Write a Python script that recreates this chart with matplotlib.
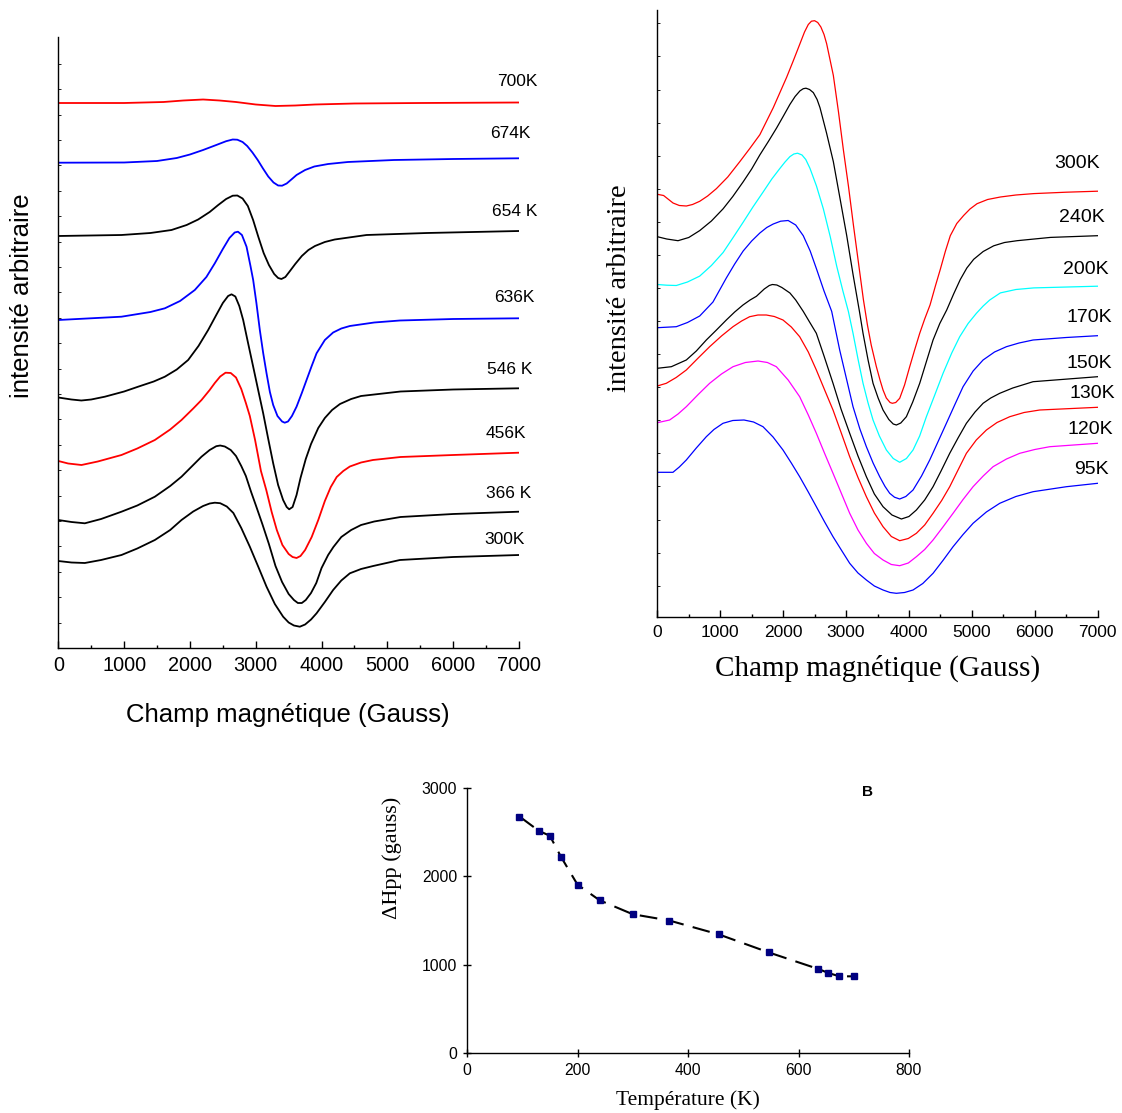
import numpy as np
import matplotlib
matplotlib.use('Agg')
import matplotlib.pyplot as plt
from matplotlib.ticker import MultipleLocator

# ---------------- data: left panel (high temperature EPR spectra) ----------------
left_names = ['700K', '674K', '654 K', '636K', '546 K', '456K', '366 K', '300K']
left_colors = ['#ff0000', '#0000ff', '#000000', '#0000ff', '#000000', '#ff0000', '#000000', '#000000']

L700_G = [0, 1000, 1600, 1900, 2200, 2450, 2700, 3000, 3300, 3600, 3900, 4500, 5500, 7000]
L700_I = [545, 545, 546, 547.5, 548.5, 547.5, 546, 543.5, 542, 542.5, 543.5, 544.5, 545, 545.5]

L674_G = [0, 1000, 1500, 1800, 2000, 2200, 2400, 2550, 2650, 2720, 2800, 2870, 2950, 3030, 3110, 3190,
          3270, 3340, 3400, 3470, 3550, 3620, 3750, 3890, 4100, 4400, 5100, 6000, 7000]
L674_I = [485.3, 485.5, 487, 490, 493.5, 498, 503, 506.8, 508.5, 508.3, 506, 502, 495.5, 488, 479.5, 471.5,
          465.5, 462.5, 462.3, 464.5, 469, 473, 478, 481.5, 484, 486, 488, 489, 489.7]

L654_G = [0, 960, 1400, 1720, 1950, 2125, 2300, 2430, 2550, 2650, 2720, 2800, 2880, 2960, 3040, 3120,
          3200, 3280, 3340, 3390, 3450, 3520, 3600, 3700, 3800, 3900, 4050, 4200, 4684, 5600, 7000]
L654_I = [412, 413, 415, 418, 423, 428.5, 436, 443, 449, 452.3, 452.5, 449.5, 442, 428, 411, 395,
          383, 374, 370, 369, 371, 377, 384, 392, 398, 402, 406, 408.5, 413, 415, 417]

L636_G = [0, 960, 1400, 1619, 1850, 2074, 2250, 2378, 2500, 2600, 2680, 2730, 2790, 2860, 2920, 2961,
          3010, 3062, 3113, 3164, 3215, 3265, 3330, 3400, 3440, 3490, 3550, 3620, 3700, 3772, 3850,
          3924, 4050, 4176, 4300, 4430, 4800, 5190, 6000, 7000]
L636_I = [328, 331.3, 336, 339.7, 347, 358, 371, 384.7, 399, 410, 415.5, 416.3, 413, 401.3, 382, 368,
          345, 318, 295, 274.7, 256, 243, 232, 226.5, 225.3, 226.5, 232, 241.3, 255, 268, 282,
          294.7, 308, 315.5, 319.5, 322, 325.5, 327.5, 329, 329.7]

L546_G = [0, 200, 350, 500, 707, 1000, 1213, 1450, 1619, 1800, 1973, 2130, 2277, 2400, 2500, 2580, 2632,
          2690, 2750, 2809, 2880, 2961, 3040, 3113, 3190, 3265, 3340, 3416, 3470, 3508, 3560, 3620,
          3680, 3760, 3840, 3950, 4050, 4160, 4280, 4450, 4600, 5200, 6000, 7000]
L546_I = [250.5, 248.5, 247.5, 248.5, 251.3, 256.5, 261.3, 266.5, 271.3, 278.5, 288, 302, 318, 333, 345,
          352, 353.7, 351.5, 342, 328, 306, 281.3, 257, 234.7, 209, 184.7, 163, 148, 141, 138.7, 141,
          153, 170, 189, 204, 220, 230, 238, 244, 249, 252, 256.5, 258.5, 259.7]

L456_G = [0, 150, 352, 600, 960, 1200, 1467, 1700, 1872, 2050, 2176, 2300, 2378, 2460, 2541, 2620, 2700,
          2780, 2850, 2910, 2990, 3079, 3160, 3242, 3320, 3405, 3500, 3560, 3620, 3680, 3750, 3850,
          3950, 4050, 4140, 4230, 4330, 4430, 4600, 4780, 5200, 6000, 7000]
L456_I = [187, 184.5, 183, 186.5, 193, 199.5, 208, 218.5, 228, 239.5, 248, 258, 265, 271.5, 275.3, 275,
          270.5, 259, 245, 232, 208, 177, 158, 136, 118, 103, 94, 91, 90, 92, 98, 111, 128, 147,
          161, 171, 177, 181.5, 185.5, 188, 191, 193, 195.3]

L366_G = [0, 200, 403, 650, 960, 1200, 1467, 1700, 1872, 2050, 2176, 2300, 2400, 2460, 2530, 2620, 2700,
          2780, 2850, 2930, 3000, 3100, 3200, 3300, 3400, 3500, 3580, 3640, 3700, 3760, 3840, 3920,
          4000, 4100, 4180, 4300, 4450, 4600, 4800, 5200, 6000, 7000]
L366_I = [128, 126, 124.7, 129, 136.3, 142.5, 151.3, 162, 171.3, 183, 191.3, 198, 201.8, 202.5, 201.5, 198,
          192, 182, 172, 156, 143, 124, 104, 82, 66, 54, 48, 45, 45, 48, 55, 65, 80, 93, 101, 111,
          118, 123, 126.5, 131, 134, 136.3]

L300_G = [0, 200, 403, 650, 960, 1200, 1467, 1700, 1872, 2050, 2200, 2300, 2378, 2460, 2560, 2660, 2780,
          2910, 3040, 3164, 3290, 3416, 3500, 3580, 3670, 3750, 3840, 3924, 4050, 4176, 4300, 4430,
          4600, 4784, 5190, 6000, 7000]
L300_I = [87, 85.5, 85, 88, 93, 99.5, 108, 118, 128, 136.5, 142, 144.5, 145.3, 144.8, 141.5, 135, 120,
          101.3, 81, 61.3, 44, 31.3, 25.5, 22.5, 21.3, 23.5, 28.5, 34.7, 46, 58, 67.5, 74.7, 79, 82,
          88, 91, 93]

left_series = [(L700_G, L700_I), (L674_G, L674_I), (L654_G, L654_I), (L636_G, L636_I),
               (L546_G, L546_I), (L456_G, L456_I), (L366_G, L366_I), (L300_G, L300_I)]
left_label_pos = [(6968, 566), (6862, 515), (6938, 437), (6923, 351),
                  (6862, 278), (6801, 215), (6846, 155), (6786, 108)]

# ---------------- data: right panel (low temperature EPR spectra) ----------------
right_names = ['300K', '240K', '200K', '170K', '150K', '130K', '120K', '95K']
right_colors = ['#ff0000', '#000000', '#00ffff', '#0000ff', '#000000', '#ff0000', '#ff00ff', '#0000ff']

R300_G = [0, 100, 250, 350, 462, 560, 674, 800, 940, 1120, 1312, 1470, 1630, 1843, 2055, 2160, 2267,
          2340, 2400, 2450, 2500, 2550, 2600, 2650, 2692, 2798, 2880, 2958, 3040, 3117, 3200, 3276,
          3340, 3400, 3482, 3540, 3588, 3640, 3700, 3736, 3790, 3853, 3930, 4012, 4090, 4171, 4250,
          4335, 4420, 4498, 4580, 4657, 4760, 4869, 4970, 5082, 5250, 5453, 5700, 5984, 6500, 7000]
R300_I = [422.7, 421.5, 414, 411.5, 411, 412.5, 415.7, 421, 428.4, 440, 455.4, 468.5, 482.3, 509.3,
          539.6, 556, 573.2, 585, 592.5, 595.8, 596.3, 594.5, 590, 582.5, 573.2, 541.6, 505, 467, 430,
          392, 353, 317.3, 292, 272, 250.3, 237, 227, 219, 214.5, 213.7, 214.5, 218.7, 232, 250.3,
          267, 283.7, 298, 312, 331, 347.6, 366, 381.3, 393.5, 401.5, 408, 413.3, 417.5, 420, 422,
          423.4, 424.8, 425.8]

R240_G = [0, 150, 329, 500, 674, 860, 1046, 1200, 1365, 1500, 1630, 1770, 1896, 2000, 2108, 2190, 2267,
          2320, 2363, 2420, 2480, 2540, 2586, 2690, 2798, 2900, 3011, 3110, 3213, 3270, 3350, 3429,
          3510, 3588, 3680, 3750, 3800, 3870, 3959, 4060, 4171, 4280, 4383, 4490, 4600, 4710, 4816,
          4920, 5029, 5180, 5347, 5519, 5719, 6250, 7000]
R240_I = [380.3, 378, 376.3, 379.5, 386.4, 396, 408.2, 420.5, 435.2, 448, 462.1, 476, 489, 500.5, 512.6,
          520.5, 526.1, 528.3, 528.8, 527.5, 524.4, 517.5, 509.3, 484, 455.4, 420, 381.3, 343, 305.6,
          283.7, 257, 233.7, 219, 207, 197.5, 193, 192, 194, 200.3, 215, 233.7, 256, 277, 293.5,
          307, 323, 337.5, 349, 357.7, 365.5, 371.2, 374.5, 376.3, 379.6, 381.3]

R200_G = [0, 150, 302, 480, 674, 860, 1046, 1200, 1365, 1520, 1683, 1820, 1949, 2030, 2108, 2170, 2230,
          2300, 2360, 2427, 2530, 2639, 2750, 2851, 2950, 3037, 3111, 3190, 3270, 3350, 3429, 3530,
          3641, 3750, 3853, 3960, 4065, 4170, 4277, 4410, 4542, 4680, 4807, 4940, 5072, 5180, 5284,
          5453, 5700, 5984, 7000]
R200_I = [332.5, 331.8, 331.5, 335, 340.9, 351.5, 364.5, 379, 394.8, 410, 425.1, 438, 448.6, 455, 460.4,
          463, 463.8, 462, 457.5, 448.6, 431, 408.2, 380, 351, 326, 305.6, 283.7, 258, 233.7, 214,
          197, 181, 167, 158.5, 154.7, 158.5, 167, 181, 200.3, 222, 243.7, 264, 280.3, 293.5, 303.7,
          311, 317, 324.1, 327.5, 329.1, 330.8]

R170_G = [0, 150, 302, 480, 674, 885, 1097, 1230, 1365, 1500, 1630, 1740, 1843, 1960, 2080, 2200, 2320,
          2430, 2533, 2650, 2772, 2899, 3000, 3111, 3220, 3323, 3430, 3535, 3620, 3694, 3770, 3853,
          3950, 4065, 4200, 4330, 4460, 4595, 4730, 4860, 5020, 5178, 5360, 5549, 5750, 5973, 6500, 7000]
R170_I = [289.3, 289.8, 290.3, 294.5, 301, 315, 339, 353, 366, 376, 384, 389.5, 393, 395.8, 396.5, 392,
          381.3, 366, 347.6, 326, 305.6, 267, 240, 210.3, 188, 170.3, 154, 140.3, 130.5, 123.7, 119.8,
          118, 120.5, 127, 141, 157, 175, 193.7, 212.5, 230.3, 246, 257, 265, 270.3, 274, 277, 279.5,
          281.3]

R150_G = [0, 223, 461, 620, 779, 940, 1097, 1230, 1362, 1475, 1575, 1700, 1780, 1829, 1900, 1980, 2108,
          2200, 2320, 2420, 2528, 2650, 2793, 2920, 3058, 3190, 3323, 3450, 3588, 3730, 3880, 4000,
          4118, 4250, 4383, 4510, 4648, 4780, 4913, 5050, 5178, 5300, 5443, 5650, 5973, 7000]
R150_I = [248.7, 250.3, 257, 266, 277, 287, 297, 305, 312, 317, 320.7, 328, 331.5, 332.5, 332, 329.5, 324,
          317, 305.6, 295, 283.7, 261, 233.7, 208, 183.7, 161, 140.3, 123, 110.3, 102, 98, 100.5, 107,
          117, 130.3, 146, 163.7, 179, 193.7, 205, 213.7, 219, 223.7, 229, 235.3, 240.3]

R130_G = [0, 143, 300, 461, 650, 832, 1020, 1203, 1340, 1468, 1600, 1733, 1860, 1998, 2130, 2263, 2400,
          2528, 2660, 2793, 2930, 3058, 3190, 3323, 3450, 3588, 3720, 3853, 3990, 4118, 4250, 4383,
          4520, 4648, 4780, 4913, 5070, 5231, 5400, 5602, 5830, 6079, 7000]
R130_I = [231, 233.7, 239.5, 247, 259, 270.3, 281, 290.3, 296, 300.3, 302, 302, 300.5, 297, 290, 280.3,
          265, 247, 227, 207, 183, 160.3, 139.5, 120.3, 104, 90.3, 80.5, 76.3, 78.5, 83.7, 92, 103.7,
          116.5, 130.3, 147, 163.7, 177, 187, 194.5, 200.3, 204.5, 207, 209.7]

R120_G = [0, 196, 330, 461, 650, 832, 1020, 1203, 1400, 1601, 1750, 1892, 2080, 2263, 2400, 2528, 2660,
          2793, 2930, 3058, 3190, 3323, 3450, 3588, 3720, 3853, 3990, 4118, 4250, 4383, 4540, 4701,
          4860, 5019, 5180, 5337, 5550, 5761, 6000, 6238, 7000]
R120_I = [194.3, 197, 203, 210.3, 222.5, 233.7, 243, 250.3, 254.5, 256, 254.5, 250.3, 237, 220.3, 202,
          183.7, 163.5, 143.7, 123, 103.7, 87, 73.7, 63.5, 57, 52.5, 51.3, 54, 60.3, 67.5, 77, 90,
          103.7, 117.5, 130.3, 141, 150.3, 158, 163.7, 167.5, 170.3, 173.7]

R95_G = [0, 249, 350, 461, 620, 779, 900, 1044, 1200, 1378, 1530, 1680, 1840, 1998, 2130, 2263, 2400,
         2528, 2660, 2793, 2930, 3058, 3190, 3323, 3450, 3588, 3700, 3800, 3930, 4065, 4220, 4383,
         4540, 4701, 4860, 5019, 5230, 5443, 5700, 5973, 6503, 7000]
R95_I = [144.7, 144.7, 150, 157, 169, 180.3, 187.5, 193.7, 196.5, 197, 195, 190.3, 180, 167, 154, 140.3,
         125, 110.3, 95, 80.3, 66.5, 53.7, 44, 37, 31, 27, 24.5, 23.7, 24.5, 27, 33.5, 43.7, 56.5,
         70.3, 82.5, 93.7, 105, 113.7, 120.5, 125.3, 130.3, 133.7]

right_series = [(R300_G, R300_I), (R240_G, R240_I), (R200_G, R200_I), (R170_G, R170_I),
                (R150_G, R150_I), (R130_G, R130_I), (R120_G, R120_I), (R95_G, R95_I)]
right_label_pos = [(6665, 453), (6749, 399), (6812, 347), (6863, 300),
                   (6863, 254), (6908, 224), (6890, 188), (6908, 147)]

# ---------------- data: bottom panel (line width vs temperature) ----------------
temperature = [95, 130, 150, 170, 200, 240, 300, 366, 456, 546, 636, 654, 674, 700]
delta_hpp = [2677, 2515, 2459, 2222, 1906, 1729, 1571, 1500, 1342, 1139, 951, 906, 868, 868]

# ---------------- figure ----------------
W, H = 1122, 1113
fig = plt.figure(figsize=(W / 100, H / 100), dpi=100)
SANS = ['Liberation Sans', 'DejaVu Sans']
SERIF = ['Liberation Serif', 'DejaVu Serif']


def box(x0, y0, x1, y1):
    return [x0 / W, 1 - y1 / H, (x1 - x0) / W, (y1 - y0) / H]


def style_spectrum_axes(ax, ymax, yticks, tick_fs):
    ax.set_xlim(0, 7000)
    ax.set_ylim(0, ymax)
    for s in ['top', 'right']:
        ax.spines[s].set_visible(False)
    for s in ['left', 'bottom']:
        ax.spines[s].set_linewidth(1.0)
    ax.xaxis.set_major_locator(MultipleLocator(1000))
    ax.xaxis.set_minor_locator(MultipleLocator(500))
    ax.tick_params(axis='x', which='major', direction='in', length=5, width=1.0, pad=6,
                   labelsize=tick_fs)
    ax.tick_params(axis='x', which='minor', direction='in', length=2.5, width=1.0)
    ax.set_yticks(yticks)
    ax.tick_params(axis='y', which='major', direction='in', length=2, width=0.6, labelleft=False)
    for lab in ax.get_xticklabels():
        lab.set_family(SANS)


# Left panel
axL = fig.add_axes(box(58.3, 37, 519, 648))
style_spectrum_axes(axL, 611, np.arange(1, 24) * 25.4, 14.3)
for (g, i), c in zip(left_series, left_colors):
    axL.plot(g, i, color=c, lw=1.3, solid_joinstyle='round')
for name, (gx, iy) in zip(left_names, left_label_pos):
    axL.text(gx, iy, name, ha='center', va='center', fontsize=12.5, family=SANS, color='black')
fig.text(288 / W, 1 - 715 / H, 'Champ magnétique (Gauss)', ha='center', va='center',
         fontsize=18.5, family=SANS)
fig.text(22 / W, 1 - 296 / H, 'intensité arbitraire', ha='center', va='center',
         rotation=90, fontsize=18.5, family=SANS)

# Right panel
axR = fig.add_axes(box(657.3, 10, 1097.7, 617))
style_spectrum_axes(axR, 607, 31.3 + np.arange(0, 18) * 33.08, 12.5)
for (g, i), c in zip(right_series, right_colors):
    axR.plot(g, i, color=c, lw=0.9, solid_joinstyle='round')
for name, (gx, iy) in zip(right_names, right_label_pos):
    axR.text(gx, iy, name, ha='center', va='center', fontsize=14, family=SANS, color='black')
fig.text(878 / W, 1 - 668 / H, 'Champ magnétique (Gauss)', ha='center', va='center',
         fontsize=21, family=SERIF)
fig.text(620 / W, 1 - 288 / H, 'intensité arbitraire', ha='center', va='center',
         rotation=90, fontsize=20.5, family=SERIF)

# Bottom panel
axB = fig.add_axes(box(467, 788, 909, 1053))
axB.set_xlim(0, 800)
axB.set_ylim(0, 3000)
for s in ['top', 'right']:
    axB.spines[s].set_visible(False)
for s in ['left', 'bottom']:
    axB.spines[s].set_linewidth(1.0)
axB.set_xticks([0, 200, 400, 600, 800])
axB.set_yticks([0, 1000, 2000, 3000])
axB.tick_params(direction='inout', length=6, width=1.0, labelsize=11.3, pad=4)
for lab in axB.get_xticklabels() + axB.get_yticklabels():
    lab.set_family(SANS)
axB.plot(temperature, delta_hpp, color='black', lw=1.5, dashes=(8.5, 4.5),
         marker='s', markersize=4.5, markerfacecolor='#000080', markeredgecolor='#000080',
         clip_on=False)
axB.text(725, 2955, 'B', ha='center', va='center', fontsize=11, fontweight='bold', family=SANS)
fig.text(688 / W, 1 - 1100 / H, 'Température (K)', ha='center', va='center',
         fontsize=15.5, family=SERIF)
fig.text(392 / W, 1 - 858 / H, 'ΔHpp (gauss)', ha='center', va='center',
         rotation=90, fontsize=16, family=SERIF)

fig.savefig('out.png', dpi=100)
